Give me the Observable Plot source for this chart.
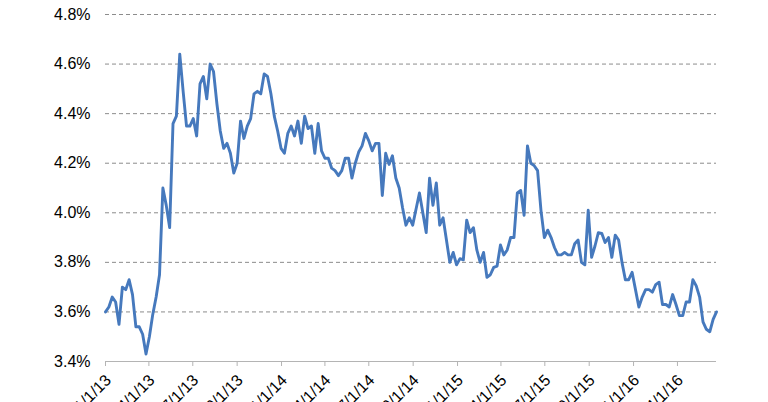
<!DOCTYPE html>
<html><head><meta charset="utf-8">
<script src="https://cdn.jsdelivr.net/npm/d3@7"></script>
<script src="https://cdn.jsdelivr.net/npm/@observablehq/plot@0.6"></script>
<style>body{margin:0;background:#fff;overflow:hidden;}</style>
</head><body><div id="chart"></div>
<script>
// Weekly series, first observation 2013-01-01, one value per week (percent)
const startDate = "2013-01-01";
const endDate = "2016-06-21";
const rates = [
 3.60,3.62,3.66,3.64,3.55,3.70,3.69,3.73,3.67,3.54,3.54,3.51,3.43,3.50,3.59,3.66,3.75,4.10,4.03,3.94,
 4.36,4.39,4.64,4.49,4.35,4.35,4.38,4.31,4.52,4.55,4.46,4.60,4.57,4.44,4.33,4.26,4.28,4.24,4.16,4.20,
 4.37,4.30,4.35,4.38,4.48,4.49,4.48,4.56,4.55,4.48,4.39,4.33,4.26,4.24,4.32,4.35,4.31,4.37,4.28,4.39,
 4.34,4.35,4.24,4.36,4.25,4.22,4.22,4.18,4.17,4.15,4.17,4.22,4.22,4.14,4.20,4.245,4.27,4.32,4.29,4.25,
 4.28,4.28,4.07,4.24,4.195,4.23,4.14,4.10,4.02,3.95,3.98,3.95,4.015,4.08,4.00,3.92,4.14,4.03,4.12,3.95,
 3.98,3.89,3.80,3.84,3.79,3.815,3.81,3.97,3.92,3.94,3.85,3.80,3.84,3.74,3.75,3.78,3.785,3.87,3.83,3.85,
 3.90,3.90,4.08,4.09,3.99,4.27,4.20,4.19,4.17,4.01,3.90,3.93,3.90,3.86,3.83,3.83,3.84,3.83,3.83,3.875,
 3.89,3.80,3.79,4.01,3.82,3.866,3.92,3.917,3.88,3.90,3.82,3.91,3.89,3.80,3.73,3.73,3.76,3.69,3.62,3.66,
 3.69,3.69,3.68,3.71,3.72,3.63,3.63,3.62,3.67,3.63,3.585,3.585,3.64,3.64,3.73,3.705,3.66,3.56,3.53,3.52,
 3.57,3.60
];
const yTicks = [3.4, 3.6, 3.8, 4.0, 4.2, 4.4, 4.6, 4.8];
const xTickDates = ["2013-01-01","2013-04-01","2013-07-01","2013-10-01","2014-01-01","2014-04-01","2014-07-01",
 "2014-10-01","2015-01-01","2015-04-01","2015-07-01","2015-10-01","2016-01-01","2016-04-01"];
const xTickLabels = ["1/1/13","4/1/13","7/1/13","10/1/13","1/1/14","4/1/14","7/1/14",
 "10/1/14","1/1/15","4/1/15","7/1/15","10/1/15","1/1/16","4/1/16"];

const data = rates.map((v, i) => ({date: d3.utcDay.offset(new Date(startDate), i * 7), value: v}));
const tickDates = xTickDates.map(d => new Date(d));
const labelMap = new Map(tickDates.map((d, i) => [+d, xTickLabels[i]]));

const chart = Plot.plot({
  width: 768, height: 402,
  marginLeft: 105, marginRight: 52, marginTop: 14, marginBottom: 41,
  style: {fontFamily: "'Liberation Sans', Arial, sans-serif", fontSize: "16px", color: "#000", background: "#fff", overflow: "visible"},
  x: {type: "utc", domain: [new Date(startDate), new Date(endDate)]},
  y: {domain: [3.4, 4.8]},
  marks: [
    Plot.ruleY(yTicks.slice(1), {stroke: "#8c8c8c", strokeDasharray: "4,3", strokeWidth: 1}),
    Plot.ruleY([3.4], {stroke: "#b4b4b4", strokeWidth: 1}),
    Plot.axisY({ticks: yTicks, tickFormat: d => d.toFixed(1) + "%", tickSize: 0, tickPadding: 15, label: null, fill: "#000"}),
    Plot.axisX({ticks: tickDates, tickFormat: d => labelMap.get(+d), tickRotate: -45, tickSize: 5, tickPadding: 4, stroke: "#b4b4b4", fill: "#000", label: null}),
    Plot.line(data, {x: "date", y: "value", stroke: "#4679bd", strokeWidth: 2.9, strokeLinejoin: "round"})
  ]
});
// shift rotated x labels slightly down/right to match the reference placement
const xl = chart.querySelector('g[aria-label="x-axis tick label"]');
if (xl) xl.setAttribute("transform", (xl.getAttribute("transform") || "") + " translate(3,7)");
document.getElementById("chart").appendChild(chart);
</script>
</body></html>
